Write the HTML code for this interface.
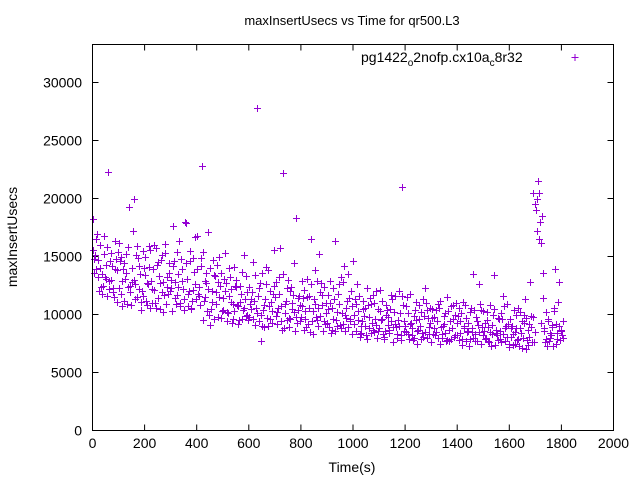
<!DOCTYPE html>
<html><head><meta charset="utf-8"><style>
html,body{margin:0;padding:0;background:#fff;}
svg{display:block;font-family:"Liberation Sans",sans-serif;}
</style></head><body>
<svg id="chart" width="640" height="480" viewBox="0 0 640 480">
<rect x="0" y="0" width="640" height="480" fill="#fff"/>
<text x="352" y="25" font-size="13" text-anchor="middle">maxInsertUsecs vs Time for qr500.L3</text>
<text x="352" y="472" font-size="14" text-anchor="middle">Time(s)</text>
<text transform="translate(17,237) rotate(-90)" font-size="14" text-anchor="middle">maxInsertUsecs</text>
<g id="grid"></g>
<g id="marks"></g>
<rect x="92.5" y="44.5" width="521" height="386" fill="none" stroke="#000" stroke-width="1"/>
<g>
<text x="361" y="62" font-size="14">pg1422<tspan font-size="10" dy="4">o</tspan><tspan dy="-4">2nofp.cx10a</tspan><tspan font-size="10" dy="4">c</tspan><tspan dy="-4">8r32</tspan></text>
<path d="M571.5 57.5h7M575 54v7" stroke="#9400d3" stroke-width="1"/>
</g>
</svg>
<script>
const xTicks=[0,200,400,600,800,1000,1200,1400,1600,1800,2000];
const yTicks=[0,5000,10000,15000,20000,25000,30000];
const times=[0,10,20,30,40,50,60,70,80,90,100,110,120,130,140,150,160,170,180,190,200,210,220,230,240,250,260,270,280,290,300,310,320,330,340,350,360,370,380,390,400,410,420,430,440,450,460,470,480,490,500,510,520,530,540,550,560,570,580,590,600,610,620,630,640,650,660,670,680,690,700,710,720,730,740,750,760,770,780,790,800,810,820,830,840,850,860,870,880,890,900,910,920,930,940,950,960,970,980,990,1000,1010,1020,1030,1040,1050,1060,1070,1080,1090,1100,1110,1120,1130,1140,1150,1160,1170,1180,1190,1200,1210,1220,1230,1240,1250,1260,1270,1280,1290,1300,1310,1320,1330,1340,1350,1360,1370,1380,1390,1400,1410,1420,1430,1440,1450,1460,1470,1480,1490,1500,1510,1520,1530,1540,1550,1560,1570,1580,1590,1600,1610,1620,1630,1640,1650,1660,1670,1680,1690,1700,1710,1720,1730,1740,1750,1760,1770,1780,1790,1800];
const values1=[18.2,15.1,13.2,16.0,12.5,14.3,22.3,13.0,11.9,14.8,12.3,15.0,11.2,13.6,19.3,12.8,20.0,11.5,14.2,12.0,13.4,10.8,15.6,12.2,11.0,14.5,12.7,10.2,16.1,11.8,13.0,17.6,10.9,12.4,14.8,11.3,17.9,12.0,10.5,13.7,16.8,11.6,22.8,12.9,10.3,14.0,11.1,13.3,9.8,12.5,11.4,15.3,10.1,12.2,9.6,13.0,10.7,11.8,15.1,9.9,12.4,10.5,11.2,27.8,9.4,13.6,10.8,9.7,12.0,10.3,11.5,9.2,15.7,22.2,10.1,13.0,9.6,11.7,18.3,10.4,9.8,12.1,8.9,10.6,16.5,11.3,9.5,15.2,10.8,12.4,9.3,11.0,8.7,16.3,10.2,9.1,12.8,10.0,13.5,9.4,14.6,8.6,10.3,9.0,11.2,8.2,9.8,10.9,8.5,12.0,8.8,9.6,7.9,10.4,8.4,11.3,9.2,8.0,10.1,21.0,9.0,8.3,11.8,7.8,9.5,8.7,10.2,8.1,11.0,8.9,7.6,9.8,8.5,10.6,8.0,9.2,11.5,7.7,8.8,10.0,8.2,9.4,7.4,10.8,8.6,7.9,13.5,8.3,9.1,7.5,10.3,8.0,8.9,7.3,13.4,8.4,9.6,7.6,10.7,8.1,7.2,9.0,8.5,7.8,10.2,7.1,11.3,8.7,12.8,20.5,19.5,21.5,16.2,13.6,7.9,9.4,8.2,10.6,7.5,9.0,8.6];
const values2=[14.8,16.5,12.0,13.5,15.2,11.6,12.9,14.2,16.3,11.1,14.6,10.7,13.1,15.8,11.9,17.2,12.6,14.9,10.4,15.5,11.2,14.1,12.9,16.0,10.6,13.3,15.1,11.7,12.4,14.4,10.3,12.8,15.4,11.0,13.9,18.0,10.7,14.6,12.1,16.7,11.8,14.2,9.5,12.7,17.1,10.5,13.4,11.9,15.0,9.7,13.1,10.2,11.6,9.3,14.1,10.8,12.5,9.6,11.3,10.0,10.9,14.5,9.1,11.6,7.7,10.4,12.6,9.0,11.1,15.6,9.9,13.2,10.7,8.8,12.3,9.7,11.0,14.4,9.3,10.8,12.9,9.6,11.5,8.5,10.3,13.8,9.0,11.9,8.6,10.1,11.7,8.4,12.3,9.5,10.9,8.8,14.2,9.7,11.4,8.3,10.0,12.6,8.1,9.4,10.6,7.9,11.4,8.7,9.6,10.5,12.1,8.3,10.0,9.1,11.7,7.6,8.9,12.0,8.2,9.4,10.7,7.9,8.8,9.9,7.5,10.8,8.4,12.3,8.0,9.3,9.7,8.2,10.9,7.5,9.0,8.4,10.3,7.9,9.6,11.0,7.8,10.1,8.8,9.7,7.3,8.5,10.4,7.7,12.6,8.9,7.9,9.5,10.8,8.3,7.4,9.7,8.6,11.6,7.7,9.2,8.8,7.4,10.0,7.9,8.4,9.3,7.0,8.1,9.9,7.6,17.2,20.5,18.5,8.8,7.3,8.0,9.1,13.9,8.4,7.8,9.4];
const values3=[15.6,13.9,14.7,12.4,16.8,13.1,12.2,15.3,11.5,13.8,16.2,12.9,14.4,10.9,12.5,14.0,11.3,15.9,13.5,11.6,15.0,12.6,10.6,13.9,15.7,11.4,14.7,12.8,10.9,13.6,12.3,14.6,11.7,16.3,12.9,10.4,13.1,15.5,11.2,12.6,13.9,10.8,15.4,11.5,12.2,9.1,14.7,10.9,12.8,13.6,10.4,12.7,14.0,11.1,10.3,12.4,9.5,13.7,10.6,11.9,9.8,11.9,13.4,10.1,12.7,9.0,11.3,13.8,9.6,11.8,12.8,10.6,9.4,13.5,11.2,8.9,12.4,10.2,9.8,11.6,10.7,8.7,13.1,11.6,9.4,10.9,12.9,9.9,11.7,9.2,10.5,12.9,9.6,8.6,11.8,13.2,9.2,10.6,8.9,12.0,9.2,10.9,11.6,8.4,9.9,12.3,8.8,9.3,11.0,8.0,10.3,11.2,8.6,9.8,10.5,8.9,11.6,9.5,7.8,10.8,8.5,10.1,9.3,8.0,11.1,9.6,7.9,9.9,10.4,8.3,10.5,8.8,9.4,11.2,8.3,10.1,7.8,9.4,10.8,8.2,9.9,8.4,11.1,7.7,9.3,10.6,8.0,9.8,8.5,10.4,8.6,10.2,7.6,9.1,10.5,8.2,7.9,9.6,8.8,10.9,9.6,8.3,7.5,10.6,8.8,8.0,9.7,7.4,8.9,9.8,19.0,16.5,9.3,8.6,10.2,7.7,8.9,10.3,7.9,12.8,8.2];
const values4=[13.6,16.9,14.0,11.8,13.2,15.8,14.6,12.3,13.9,15.4,11.8,13.9,15.2,12.4,10.8,13.0,15.1,12.2,11.1,14.0,12.7,15.9,11.0,12.1,14.3,10.5,11.9,15.3,13.2,12.0,14.2,11.4,13.5,10.7,12.2,14.4,11.8,10.6,14.9,11.3,12.4,14.9,11.2,13.6,10.0,12.0,9.6,14.3,11.5,10.3,12.0,9.4,13.2,10.9,12.5,9.2,11.1,10.4,13.3,9.5,11.3,9.6,10.6,12.3,10.0,8.9,14.1,10.7,9.3,12.5,10.2,11.8,8.7,10.9,9.5,12.0,10.5,8.6,11.4,9.4,11.4,10.3,9.2,12.6,8.3,9.8,10.6,12.7,9.4,11.0,8.9,10.6,11.3,9.0,12.6,10.1,8.6,11.2,9.6,10.7,11.3,9.5,8.3,10.5,9.0,10.8,8.4,11.7,9.1,8.6,9.5,8.1,10.8,8.7,9.4,10.2,8.3,9.0,11.6,8.6,11.5,9.2,8.2,10.4,8.6,9.0,11.3,8.5,9.7,10.6,8.3,10.4,8.0,8.9,9.9,7.7,8.7,10.7,8.1,9.3,10.6,7.9,9.0,8.5,10.2,8.8,7.7,9.4,10.9,8.2,9.3,7.7,8.5,10.0,8.7,7.8,10.1,8.3,9.0,7.5,8.1,10.4,8.8,7.3,9.4,10.0,7.8,9.2,7.6,8.5,20.0,18.0,11.4,7.6,9.6,8.4,7.3,9.2,11.1,8.7,8.0];
const X0=92.5,X1=613.5,Y0=430.5,YT=44.5;
const xMax=2000,yMax=33276;
function xs(t){return X0+(X1-X0)*t/xMax;}
function ys(v){return Y0-(Y0-YT)*v/yMax;}
const NS="http://www.w3.org/2000/svg";
const grid=document.getElementById('grid'),marks=document.getElementById('marks');
xTicks.forEach(t=>{
 const x=xs(t);
 const p=document.createElementNS(NS,'path');
 p.setAttribute('d',`M${x} ${Y0}v-6M${x} ${YT}v6`);
 p.setAttribute('stroke','#000');
 
 
 grid.appendChild(p);
 const tx=document.createElementNS(NS,'text');
 tx.setAttribute('x',x);tx.setAttribute('y',448);
 tx.setAttribute('font-size','14');tx.setAttribute('text-anchor','middle');
 
 
 tx.textContent=t;grid.appendChild(tx);
});
yTicks.forEach(v=>{
 const y=ys(v);
 const p=document.createElementNS(NS,'path');
 p.setAttribute('d',`M${X0} ${y}h6M${X1} ${y}h-6`);
 p.setAttribute('stroke','#000');
 
 
 grid.appendChild(p);
 const tx=document.createElementNS(NS,'text');
 tx.setAttribute('x',82);tx.setAttribute('y',y+5);
 tx.setAttribute('font-size','14');tx.setAttribute('text-anchor','end');
 
 
 tx.textContent=v;grid.appendChild(tx);
});
function plot(vals,dx,color,name){
 vals.forEach((v,i)=>{
  const x=Math.round(xs(times[i]+dx))+0.5,y=Math.round(ys(v*1000))+0.5;
  const p=document.createElementNS(NS,'path');
  p.setAttribute('d',`M${x-3.5} ${y}h7M${x} ${y-3.5}v7`);
  p.setAttribute('stroke',color);
  
  
  marks.appendChild(p);
 });
}
plot(values3,2.5,'#9400d3','point-series-3');
plot(values1,0,'#9400d3','point-series-1');
plot(values2,5,'#9400d3','point-series-2');
plot(values4,7.5,'#9400d3','point-series-4');
</script>
</body></html>
